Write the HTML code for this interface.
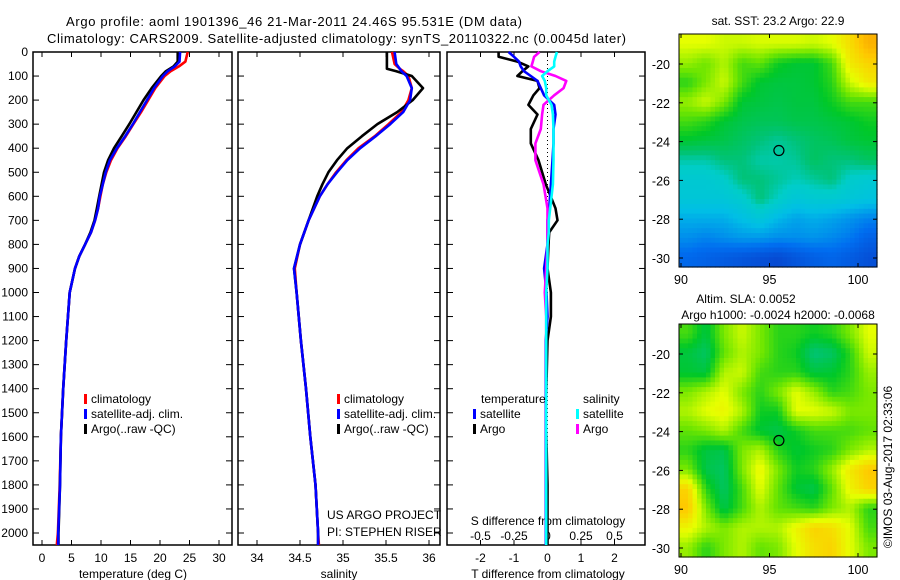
<!DOCTYPE html>
<html><head><meta charset="utf-8">
<style>
html,body{margin:0;padding:0;background:#fff;}
svg{display:block;font-family:"Liberation Sans",sans-serif;}
text{font-size:12px;fill:#000;}
</style></head>
<body>
<svg id="fig" width="900" height="580" viewBox="0 0 900 580" xmlns="http://www.w3.org/2000/svg">
<text x="66" y="26" textLength="456" style="font-size:13px">Argo profile: aoml 1901396_46 21-Mar-2011 24.46S 95.531E (DM data)</text>
<text x="47" y="43" textLength="579" style="font-size:13px">Climatology: CARS2009. Satellite-adjusted climatology: synTS_20110322.nc (0.0045d later)</text>
<g id="g"></g>
</svg>
<script>
// ---- data ----
const depthTicks=[0,100,200,300,400,500,600,700,800,900,1000,1100,1200,1300,1400,1500,1600,1700,1800,1900,2000];
const tempTicks=[0,5,10,15,20,25,30];
const salTicks=[34,34.5,35,35.5,36];
const tdTicks=[-2,-1,0,1,2];
const sdTicks=[-0.5,-0.25,0,0.25,0.5];
const sdTickLabels=["-0.5","-0.25","0","0.25","0.5"];

const tDepth=[0,40,60,80,100,150,200,250,300,350,400,450,500,550,600,650,700,750,800,850,900,1000,1200,1400,1600,1800,2000,2050];
const tClim=[24.7,24.3,23.2,21.8,20.8,19.2,18,16.8,15.5,14.2,12.8,11.7,10.9,10.3,9.9,9.5,9,8.3,7.3,6.3,5.6,4.7,4.1,3.6,3.2,3.0,2.7,2.5];
const tSat=[23.4,23.3,22.5,21.3,20.5,19,17.8,16.6,15.4,14.1,12.7,11.5,10.8,10.3,9.8,9.5,9,8.3,7.3,6.3,5.6,4.7,4.1,3.6,3.2,3.05,2.75,2.75];
const tArgo=[23,23,22.3,21,20.2,18.6,17.2,16,14.8,13.5,12.2,11.2,10.5,10.1,9.7,9.3,8.9,8.2,7.3,6.3,5.6,4.7,4.1,3.6,3.2,3.05,2.8,2.8];

const sDepth=[0,50,70,80,100,150,200,250,300,350,400,450,500,550,600,700,800,900,1000,1200,1400,1600,1800,2000,2050];
const sClim=[35.57,35.6,35.66,35.7,35.76,35.8,35.76,35.68,35.53,35.37,35.18,35.04,34.92,34.82,34.73,34.6,34.5,34.44,34.46,34.51,34.57,34.62,34.68,34.71,34.72];
const sSat=[35.6,35.62,35.66,35.68,35.74,35.8,35.78,35.7,35.55,35.38,35.2,35.05,34.93,34.82,34.73,34.6,34.5,34.43,34.46,34.51,34.57,34.62,34.68,34.71,34.71];
const sArgo=[35.51,35.51,35.51,35.62,35.8,35.93,35.81,35.63,35.4,35.22,35.05,34.93,34.83,34.76,34.7,34.6,34.5,34.43,34.46,34.51,34.57,34.62,34.68,34.71,34.71];

const dDepth=[0,20,40,60,80,100,120,150,180,220,260,320,380,450,550,650,700,750,800,900,1000,1100,1200,1500,1800,2050];
const dtSat=[-1.16,-1.0,-0.85,-0.8,-0.7,-0.5,-0.3,-0.2,-0.1,0.2,0.24,0.18,0.18,0.15,0.1,0.05,0.0,0.0,0.0,-0.1,-0.03,0.0,-0.05,-0.05,-0.05,-0.05];
const dtArgo=[-1.46,-1.46,-0.9,-0.57,-0.75,-0.9,-0.3,-0.24,-0.42,-0.57,-0.3,-0.5,-0.5,-0.27,-0.05,0.24,0.3,0.05,0.03,0.0,0.1,0.1,0.0,-0.05,0.0,0.0];
const dsArgo=[-0.06,-0.1,-0.11,-0.12,-0.05,0.06,0.14,0.12,0.05,-0.03,-0.04,-0.05,-0.09,-0.09,-0.03,0.0,0.0,0.0,0.0,-0.01,-0.02,-0.01,-0.01,-0.01,-0.01,-0.01];
const dsSat=[0.07,0.06,0.05,0.05,0.0,-0.04,-0.02,-0.01,-0.01,0.03,0.04,0.045,0.045,0.045,0.04,0.02,0.01,0.01,0.0,0.0,-0.01,-0.01,-0.01,-0.01,-0.01,-0.01];

const latTicks=[-20,-22,-24,-26,-28,-30];
const lonTicks=[90,95,100];
const argoPos=[95.531,-24.46];
const sstGrid=[
[0.74,0.74,0.72,0.72,0.73,0.73,0.73,0.72,0.74,0.8,0.88],
[0.68,0.65,0.7,0.62,0.64,0.58,0.56,0.56,0.62,0.78,0.82],
[0.6,0.66,0.72,0.62,0.56,0.55,0.55,0.56,0.6,0.72,0.78],
[0.68,0.72,0.66,0.56,0.55,0.54,0.55,0.55,0.58,0.62,0.62],
[0.62,0.6,0.56,0.54,0.53,0.53,0.54,0.54,0.55,0.56,0.58],
[0.56,0.55,0.54,0.52,0.5,0.48,0.5,0.52,0.53,0.55,0.56],
[0.47,0.47,0.5,0.5,0.47,0.47,0.48,0.52,0.5,0.5,0.52],
[0.42,0.42,0.44,0.5,0.5,0.48,0.46,0.48,0.5,0.44,0.42],
[0.4,0.4,0.4,0.43,0.5,0.45,0.4,0.42,0.42,0.4,0.38],
[0.32,0.32,0.32,0.36,0.4,0.34,0.3,0.32,0.3,0.27,0.24],
[0.26,0.24,0.26,0.28,0.28,0.26,0.26,0.27,0.25,0.22,0.16],
[0.18,0.16,0.14,0.12,0.1,0.08,0.12,0.15,0.17,0.14,0.1]];
const slaGrid=[
[0.62,0.55,0.66,0.72,0.66,0.6,0.6,0.58,0.6,0.66,0.74],
[0.55,0.52,0.64,0.7,0.66,0.6,0.58,0.5,0.52,0.6,0.72],
[0.56,0.55,0.7,0.72,0.62,0.6,0.6,0.55,0.56,0.6,0.68],
[0.66,0.7,0.74,0.66,0.6,0.66,0.74,0.68,0.6,0.62,0.66],
[0.7,0.74,0.76,0.7,0.58,0.58,0.74,0.74,0.72,0.66,0.66],
[0.64,0.66,0.7,0.62,0.56,0.54,0.58,0.62,0.62,0.62,0.64],
[0.6,0.55,0.54,0.66,0.7,0.6,0.56,0.58,0.6,0.66,0.7],
[0.66,0.54,0.52,0.66,0.76,0.66,0.58,0.6,0.68,0.78,0.84],
[0.82,0.6,0.52,0.62,0.74,0.64,0.56,0.54,0.64,0.76,0.82],
[0.84,0.66,0.54,0.62,0.7,0.64,0.62,0.6,0.66,0.7,0.6],
[0.76,0.7,0.66,0.7,0.7,0.7,0.76,0.82,0.8,0.74,0.62],
[0.68,0.6,0.66,0.7,0.64,0.66,0.74,0.8,0.82,0.74,0.66]];

// ---- drawing ----
const NS="http://www.w3.org/2000/svg";
const G=document.getElementById('g');
function mk(tag,at,parent){const e=document.createElementNS(NS,tag);for(const k in at)e.setAttribute(k,at[k]);(parent||G).appendChild(e);return e;}
const TOP=52,BOT=545;
const yD=d=>TOP+d*0.2405;
const panels=[
 {name:'temperature-panel',x0:33,x1:232},
 {name:'salinity-panel',x0:238,x1:440},
 {name:'difference-panel',x0:447,x1:645}];
const xT=t=>42+t*5.9;
const xS=s=>257+(s-34)*86;
const xTD=t=>547.5+t*33.5;
const xSD=s=>547.5+s*134;

function txt(s,x,y,anchor,name,extra){const t=mk('text',Object.assign({x:x,y:y,'text-anchor':anchor||'start'},extra||{}));t.textContent=s;


return t;}

depthTicks.forEach(d=>{txt(String(d),28,yD(d)+4,'end','depth-tick-label');});

panels.forEach((p,i)=>{
 const r=mk('rect',{x:p.x0,y:TOP,width:p.x1-p.x0,height:BOT-TOP,fill:'none',stroke:'#000','stroke-width':1.5});
 
 
 depthTicks.forEach(d=>{mk('line',{x1:p.x0,x2:p.x0+6,y1:yD(d),y2:yD(d),stroke:'#000'});mk('line',{x1:p.x1-6,x2:p.x1,y1:yD(d),y2:yD(d),stroke:'#000'});});
});
function xticks(ticks,fx,labels,ylab,top,bottom,name){
 ticks.forEach((v,i)=>{const x=fx(v);
  if(top)mk('line',{x1:x,x2:x,y1:TOP,y2:TOP+5,stroke:'#000'});
  if(bottom)mk('line',{x1:x,x2:x,y1:BOT-5,y2:BOT,stroke:'#000'});
  txt(labels?labels[i]:String(v),x,ylab,'middle',name);});
}
xticks(tempTicks,xT,null,562,true,true,'temperature-tick-label');
xticks(salTicks,xS,null,562,true,true,'salinity-tick-label');
xticks(tdTicks,xTD,null,562,true,true,'t-diff-tick-label');
xticks(sdTicks,xSD,sdTickLabels,540,false,false,'s-diff-tick-label');
txt('temperature (deg C)',133,578,'middle','temperature-axis-title');
txt('salinity',339,578,'middle','salinity-axis-title');
txt('T difference from climatology',548,578,'middle','t-diff-axis-title');
txt('S difference from climatology',548,525,'middle','s-diff-axis-title');
txt('US ARGO PROJECT',327,519,'start','project-credit');
txt('PI: STEPHEN RISER',327,536,'start','pi-credit');

const z=mk('line',{x1:xTD(0),x2:xTD(0),y1:TOP,y2:BOT,stroke:'#000','stroke-dasharray':'1,3'});



function line(xs,ds,fx,color,name,w){
 const pts=xs.map((v,i)=>fx(v).toFixed(1)+','+yD(ds[i]).toFixed(1)).join(' ');
 const l=mk('polyline',{points:pts,fill:'none',stroke:color,'stroke-width':w||2.6,'stroke-linejoin':'round'});
 
 
}
line(tClim,tDepth,xT,'#f00','temp-climatology-line');
line(tArgo,tDepth,xT,'#000','temp-argo-line');
line(tSat,tDepth,xT,'#00f','temp-satellite-line');
line(sClim,sDepth,xS,'#f00','sal-climatology-line');
line(sArgo,sDepth,xS,'#000','sal-argo-line');
line(sSat,sDepth,xS,'#00f','sal-satellite-line');
line(dtArgo,dDepth,xTD,'#000','tdiff-argo-line');
line(dtSat,dDepth,xTD,'#00f','tdiff-satellite-line');
line(dsArgo,dDepth,xSD,'#f0f','sdiff-argo-line');
line(dsSat,dDepth,xSD,'#0ff','sdiff-satellite-line');

function leg(x,y,color,label,name){
 const m=mk('rect',{x:x,y:y-9,width:3,height:10,fill:color});
 
 
 txt(label,x+7,y,'start',name);
}
[337,84].forEach(x=>{
 leg(x,403,'#f00','climatology','legend-climatology');
 leg(x,418,'#00f','satellite-adj. clim.','legend-satellite-adj');
 leg(x,433,'#000','Argo(..raw -QC)','legend-argo');
});
txt('temperature',481,403,'start','legend-temperature-header');
txt('salinity',583,403,'start','legend-salinity-header');
leg(473,418,'#00f','satellite','legend-t-satellite');
leg(473,433,'#000','Argo','legend-t-argo');
leg(576,418,'#0ff','satellite','legend-s-satellite');
leg(576,433,'#f0f','Argo','legend-s-argo');

const stops=[[0,[10,50,190]],[0.2,[0,110,240]],[0.35,[0,190,230]],[0.45,[0,205,200]],[0.5,[0,195,120]],[0.57,[0,200,40]],[0.65,[110,230,0]],[0.74,[230,255,0]],[0.84,[255,200,0]],[1,[240,110,0]]];
function cmap(v){for(let i=1;i<stops.length;i++){if(v<=stops[i][0]){const a=stops[i-1],b=stops[i],f=(v-a[0])/(b[0]-a[0]);
 return 'rgb('+a[1].map((c,k)=>Math.round(c+(b[1][k]-c)*f)).join(',')+')';}}return 'rgb(240,110,0)';}
function drawMap(grid,top,name){
 const L=679,R=877,B=top+233;
 const lx=lon=>681+(lon-90)*17.7;
 const ly=lat=>top+30+(-20-lat)*19.4;
 const g=mk('g',{});
 
 
 const rows=grid.length,cols=grid[0].length,sub=4;
 const W=(R-L)/(cols*sub),H=(B-top)/(rows*sub);
 for(let r=0;r<rows*sub;r++)for(let c=0;c<cols*sub;c++){
  let fr=(r+0.5)/sub-0.5,fc=(c+0.5)/sub-0.5;fr=Math.max(0,Math.min(rows-1,fr));fc=Math.max(0,Math.min(cols-1,fc));
  const r0=Math.floor(fr),c0=Math.floor(fc),r1=Math.min(rows-1,r0+1),c1=Math.min(cols-1,c0+1),ar=fr-r0,ac=fc-c0;
  const v=grid[r0][c0]*(1-ar)*(1-ac)+grid[r0][c1]*(1-ar)*ac+grid[r1][c0]*ar*(1-ac)+grid[r1][c1]*ar*ac;
  const cell=mk('rect',{x:(L+c*W).toFixed(2),y:(top+r*H).toFixed(2),width:(W+0.6).toFixed(2),height:(H+0.6).toFixed(2),fill:cmap(v)},g);
  
  
 }
 mk('rect',{x:L,y:top,width:R-L,height:B-top,fill:'none',stroke:'#000','stroke-width':1},g);
 latTicks.forEach(v=>{const y=ly(v);mk('line',{x1:L,x2:L+4,y1:y,y2:y,stroke:'#000'},g);mk('line',{x1:R-4,x2:R,y1:y,y2:y,stroke:'#000'},g);txt(String(v),670,y+5,'end','map-lat-label',{style:'font-size:12.5px'});});
 lonTicks.forEach(v=>{const x=lx(v);mk('line',{x1:x,x2:x,y1:B-4,y2:B,stroke:'#000'},g);mk('line',{x1:x,x2:x,y1:top,y2:top+4,stroke:'#000'},g);txt(String(v),x,B+17,'middle','map-lon-label',{style:'font-size:12.5px'});});
 const c=mk('circle',{cx:lx(argoPos[0]),cy:ly(argoPos[1]),r:5,fill:'none',stroke:'#000','stroke-width':1.2},g);
 
 
}
drawMap(sstGrid,34,'sst-map');
drawMap(slaGrid,324,'sla-map');
txt('sat. SST: 23.2 Argo: 22.9',778,25,'middle','sst-map-title');
txt('Altim. SLA: 0.0052',746,303,'middle','sla-map-title-1');
txt('Argo h1000: -0.0024 h2000: -0.0068',778,319,'middle','sla-map-title-2');
txt('\u00A9IMOS 03-Aug-2017 02:33:06',892,467,'middle','imos-timestamp',{transform:'rotate(-90 892 467)'});
</script>
</body></html>
